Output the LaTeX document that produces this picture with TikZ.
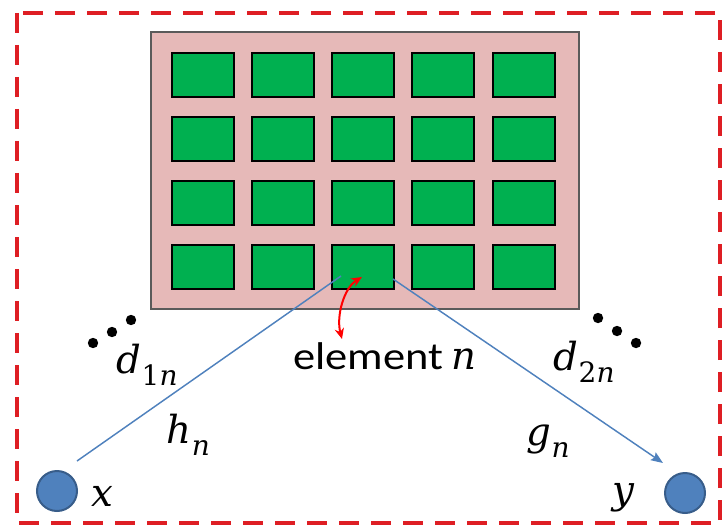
\documentclass[tikz,border=0pt]{standalone}
\usepackage{fontspec}
\usepackage{graphicx}
\setmainfont{Carlito}
\newfontfamily\symfont{DejaVu Serif}
\usetikzlibrary{arrows.meta}
\definecolor{cellgreen}{RGB}{0,176,80}
\definecolor{arraypink}{RGB}{230,185,184}
\definecolor{arrayedge}{RGB}{90,90,90}
\definecolor{linkblue}{RGB}{79,129,189}
\definecolor{nodeblue}{RGB}{79,129,189}
\definecolor{nodeedge}{RGB}{56,93,138}
\definecolor{framered}{RGB}{222,30,36}
% italic symbol with a lowered index
\newcommand\symsub[2]{{\itshape #1}\kern0.5pt\raisebox{-9pt}{\fontsize{21}{24}\selectfont #2}}
\begin{document}
\begin{tikzpicture}[x=0.75pt,y=-0.75pt,
  panel/.style={draw=arrayedge,line width=1.5pt,fill=arraypink,minimum width=321pt,minimum height=207.75pt,inner sep=0pt},
  cell/.style={draw=black,line width=1.5pt,fill=cellgreen,minimum width=46.5pt,minimum height=33pt,inner sep=0pt},
  terminal/.style={circle,draw=nodeedge,line width=1.5pt,fill=nodeblue,minimum size=30pt,inner sep=0pt},
  link/.style={draw=linkblue,line width=1.1pt},
  mathlab/.style={inner sep=0pt,anchor=base west,font=\symfont\fontsize{29}{34}\selectfont},
  textlab/.style={inner sep=0pt,anchor=base west,font=\fontsize{29}{34}\selectfont},
  dot/.style={fill=black}]
\useasboundingbox (0,0) rectangle (723,527);

% dashed enclosure
\draw[framered,line width=3pt,dash pattern=on 15pt off 9pt] (17,13) rectangle (720,523);

% reflecting surface and its elements
\node[panel] (array) at (365,170.5) {};
\foreach \r/\yy in {1/75,2/139,3/203,4/267}
  \foreach \c/\xx in {1/203,2/283,3/363,4/443,5/524}
    \node[cell] (c-\r-\c) at (\xx,\yy) {};

% continuation dots
\foreach \p in {(93,343),(112,332),(131,320),(598,318),(617,331),(636,343)}
  \fill[dot] \p circle (3.9pt);

% transmitter and receiver
\node[terminal] (x) at (57,491) {};
\node[terminal] (y) at (685,493) {};

% channels via element n
\coordinate (hstart) at (77,461);
\coordinate (hend) at (341,276);
\coordinate (gstart) at (393,279);
\coordinate (gend) at (663,463);
\draw[link] (hstart) -- (hend);
\draw[link,-{Stealth[length=9pt,width=7pt,inset=1.5pt]}] (gstart) -- (gend);

% element label and its pointer
\node[textlab] (elem) at (293,369) {\scalebox{1.15}[1]{element} {\symfont\itshape n}};
\coordinate (eltop) at (362,277);
\coordinate (elbot) at (342,339);
\draw[red,line width=1.5pt,{Stealth[length=8pt,width=7pt]}-{Stealth[length=8pt,width=7pt]}]
  (eltop) .. controls (344,288) and (336,316) .. (elbot);

% distances, channels, signals
\node[mathlab] (d1) at (116,373) {\symsub{d}{1\itshape n}};
\node[mathlab] (d2) at (553,370) {\symsub{d}{2\itshape n}};
\node[mathlab] (h) at (166,443) {\symsub{h}{\itshape n}};
\node[mathlab] (g) at (526,445) {\symsub{g}{\itshape n}};
\node[mathlab] (xl) at (91,506) {\itshape x};
\node[mathlab] (yl) at (612,503) {\itshape y};
\end{tikzpicture}
\end{document}
